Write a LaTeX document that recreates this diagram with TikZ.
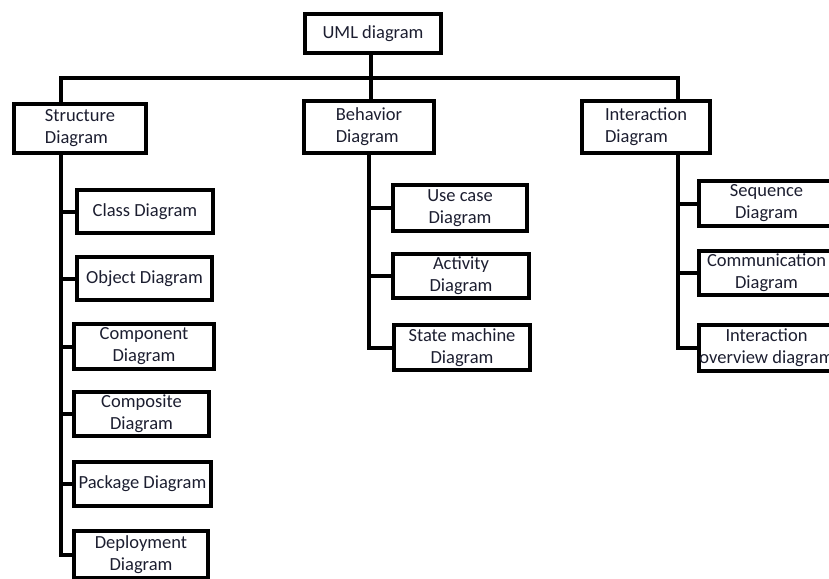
\documentclass[tikz,border=0pt]{standalone}
\usepackage{fontspec}
\setmainfont{Carlito}
\usepackage{tikz}
\definecolor{txt}{RGB}{28,30,48}

\begin{document}
\begin{tikzpicture}[x=1pt, y=-1pt, line width=4pt,
    box/.style={draw, rectangle, inner sep=0pt, outer sep=0pt, align=center,
        text=txt, font=\fontsize{18.5}{22}\selectfont}]
    \useasboundingbox (0,0) rectangle (829,578);
    \clip (0,0) rectangle (829,578);

    % top level
    \node[box, minimum width=136, minimum height=39] (uml) at (373,33.5) {UML diagram};
    \node[box, minimum width=132, minimum height=49, align=left] (str) at (80,128.5) {Structure\\Diagram};
    \node[box, minimum width=130, minimum height=52, align=left] (beh) at (369,127) {Behavior\\Diagram};
    \node[box, minimum width=128, minimum height=52, align=left] (int) at (646,127) {Interaction\\Diagram};

    % children
    \foreach \n/\x/\y/\w/\h/\txt in {cls/145/211.5/136/43/{Class Diagram},
        obj/144.5/278.5/135/43/{Object Diagram},
        cmp/144/346.5/140/45/{Component\\Diagram},
        cps/141.5/414/135/44/{Composite\\Diagram},
        pkg/142.5/484/137/44/{Package Diagram},
        dep/141/554.5/134/47/{Deployment\\Diagram},
        uc/460/208/134/46/{Use case\\Diagram},
        act/461/276/136/44/{Activity\\Diagram},
        stm/462/347.5/136/45/{State machine\\Diagram}}{
        \node[box, minimum width=\w, minimum height=\h] (\n) at (\x,\y) {\txt};
    }
    \foreach \n/\y/\h/\txt in {seq/203.5/45/{Sequence\\Diagram},
        com/273/44/{Communication\\Diagram},
        iov/348/46/{Interaction\\overview diagram}}{
        \node[box, anchor=west, minimum width=135, minimum height=\h] (\n) at (699,\y) {\txt};
    }

    % connectors
    \coordinate (sdrop) at (61,78);
    \coordinate (bdrop) at (371,78);
    \coordinate (idrop) at (678,78);
    \draw (str.north -| sdrop) |- (idrop) -- (int.north -| idrop);
    \draw (uml.south -| bdrop) -- (beh.north -| bdrop);
    \foreach \c in {cls,obj,cmp,cps,pkg,dep}{
        \draw (str.south -| sdrop) |- (\c.west);
    }
    \foreach \c in {uc,act,stm}{
        \draw (beh.south) |- (\c.west);
    }
    \foreach \c in {seq,com,iov}{
        \draw (int.south -| idrop) |- (\c.west);
    }
\end{tikzpicture}
\end{document}
